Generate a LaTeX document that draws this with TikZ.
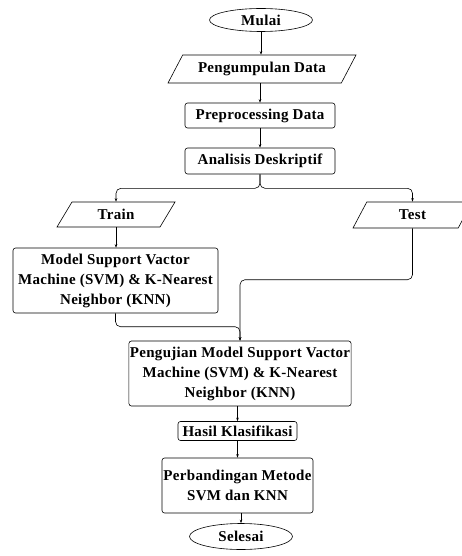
\documentclass[tikz,border=0pt]{standalone}
\usepackage{fontspec}
\setmainfont{Liberation Serif}[LetterSpace=2]
\usetikzlibrary{shapes.geometric,arrows.meta,calc}
\begin{document}
\begin{tikzpicture}[x=1pt,y=-1pt,
  every node/.style={font=\fontsize{15}{20}\selectfont\bfseries, inner sep=1pt, line width=0.6pt},
  proc/.style={draw, rounded corners=2.5pt, align=center},
  io/.style={draw, trapezium, trapezium left angle=#1, trapezium right angle=180-#1, trapezium stretches body},
  term/.style={draw, ellipse},
  arr/.style={-{Stealth[length=3.5pt,width=2.5pt]}, line width=0.6pt},
  ]
\useasboundingbox (0,0) rectangle (461,556);
\node[term, minimum width=103, minimum height=23] (mulai) at (261,20) {Mulai};
\node[io=47, minimum width=188, minimum height=28] (kumpul) at (262,69) {Pengumpulan Data};
\node[proc, minimum width=150, minimum height=25] (pre) at (260,115.5) {Preprocessing Data};
\node[proc, minimum width=150, minimum height=26] (ana) at (260,161) {Analisis Deskriptif};
\node[io=40, minimum width=118, minimum height=25] (train) at (116,214.5) {Train};
\node[io=41, minimum width=119, minimum height=26] (test) at (412.5,215) {Test};
\node[proc, minimum width=205, minimum height=65] (model) at (115.5,280.5) {Model Support Vactor\\Machine (SVM) \& K-Nearest\\Neighbor (KNN)};
\node[proc, minimum width=221, minimum height=65] (uji) at (240,373.5) {Pengujian Model Support Vactor\\Machine (SVM) \& K-Nearest\\Neighbor (KNN)};
\node[proc, minimum width=119, minimum height=19] (hasil) at (237.5,431) {Hasil Klasifikasi};
\node[proc, minimum width=151, minimum height=55] (banding) at (237.5,485.5) {Perbandingan Metode\\SVM dan KNN};
\node[term, minimum width=103, minimum height=26] (selesai) at (241,536.5) {Selesai};

\draw[arr] (mulai.south) -- (mulai.south |- kumpul.north);
\draw[arr] (kumpul.south -| pre.north) -- (pre.north);
\draw[arr] (pre.south) -- (ana.north);
\coordinate (br) at ($(ana.south)+(0,14)$);
\draw[arr, rounded corners=5pt] (ana.south) |- (train.north |- br) -- (train.north);
\draw[arr, rounded corners=5pt] (ana.south) |- (test.north |- br) -- (test.north);
\draw[arr] (train.south) -- (model.north -| train.south);
\coordinate (mj) at ($(uji.north)+(0,-14)$);
\coordinate (tj) at ($(uji.north)+(0,-61)$);
\draw[arr, rounded corners=5pt] (model.south) |- (mj) -- (uji.north);
\draw[arr, rounded corners=5pt] (test.south) |- (tj) -- (uji.north);
\draw[arr] (uji.south -| hasil.north) -- (hasil.north);
\draw[arr] (hasil.south) -- (banding.north);
\draw[arr] (banding.south -| selesai.north) -- (selesai.north);
\end{tikzpicture}
\end{document}
